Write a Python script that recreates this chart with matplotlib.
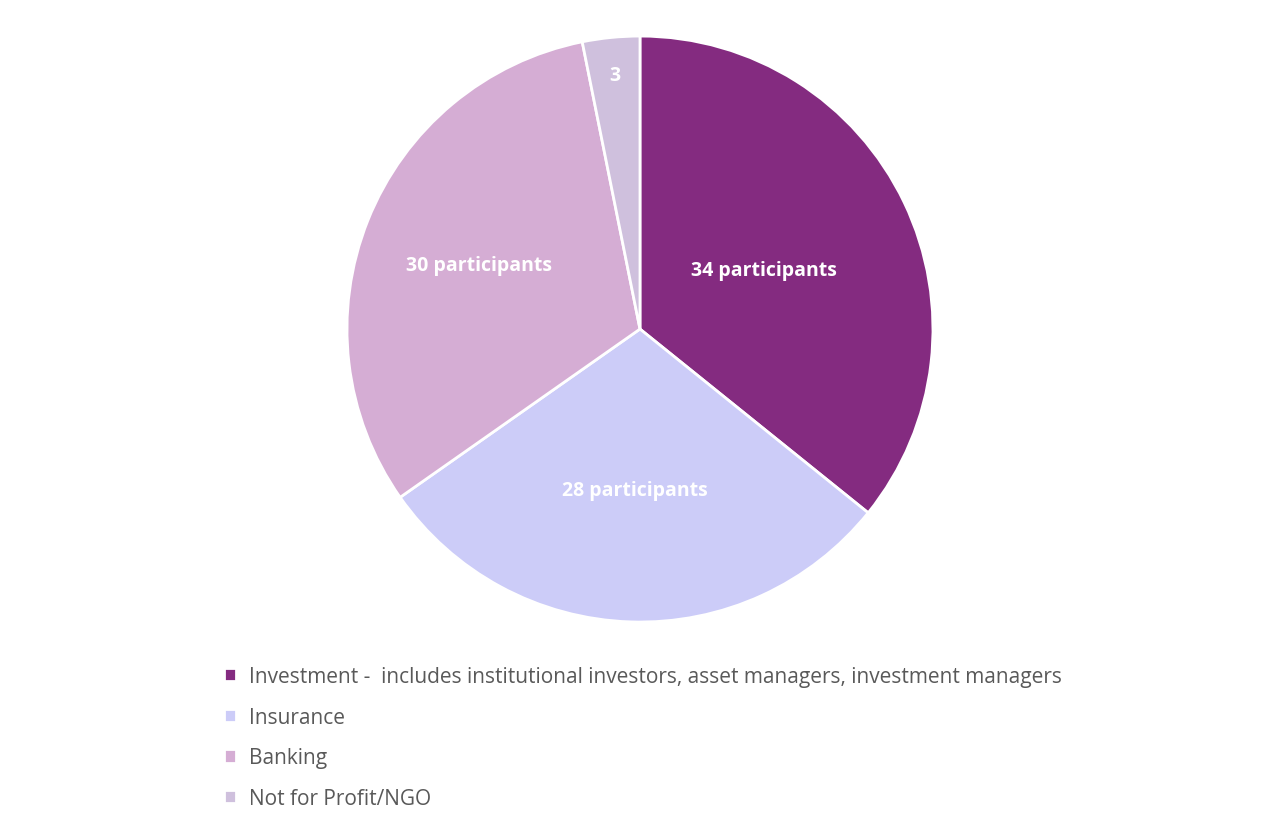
import matplotlib
matplotlib.use("Agg")
import matplotlib.pyplot as plt
import numpy as np

categories = ["Investment -  includes institutional investors, asset managers, investment managers",
              "Insurance", "Banking", "Not for Profit/NGO"]
values = [34, 28, 30, 3]
labels = ["34 participants", "28 participants", "30 participants", "3"]
colors = ["#842B80", "#CCCCF8", "#D5ADD4", "#CFC0DD"]
label_r = [0.47, 0.55, 0.59, 0.87]

plt.rcParams['font.family'] = ['Open Sans', 'DejaVu Sans']
fig = plt.figure(figsize=(12.86, 8.2), dpi=100)
ax = fig.add_axes([0.2698, 0.2402, 0.4557, 0.7146])
wedges, _ = ax.pie(values, colors=colors, startangle=90, counterclock=False,
                   wedgeprops=dict(edgecolor="white", linewidth=2))
ax.set_xlim(-1, 1); ax.set_ylim(-1, 1); ax.set_aspect('equal')
for w, lab, r in zip(wedges, labels, label_r):
    ang = np.deg2rad((w.theta1 + w.theta2) / 2)
    ax.text(r * np.cos(ang), r * np.sin(ang), lab, ha="center", va="center",
            color="white", fontsize=14, fontweight="bold")

leg = fig.legend(wedges, categories, loc="upper left",
                 bbox_to_anchor=(205/1286, 1 - 648/820), frameon=False,
                 fontsize=15, labelspacing=0.95, handlelength=0.6, handleheight=0.6,
                 handletextpad=0.6, labelcolor="#595959")
fig.savefig("out.png", dpi=100)
